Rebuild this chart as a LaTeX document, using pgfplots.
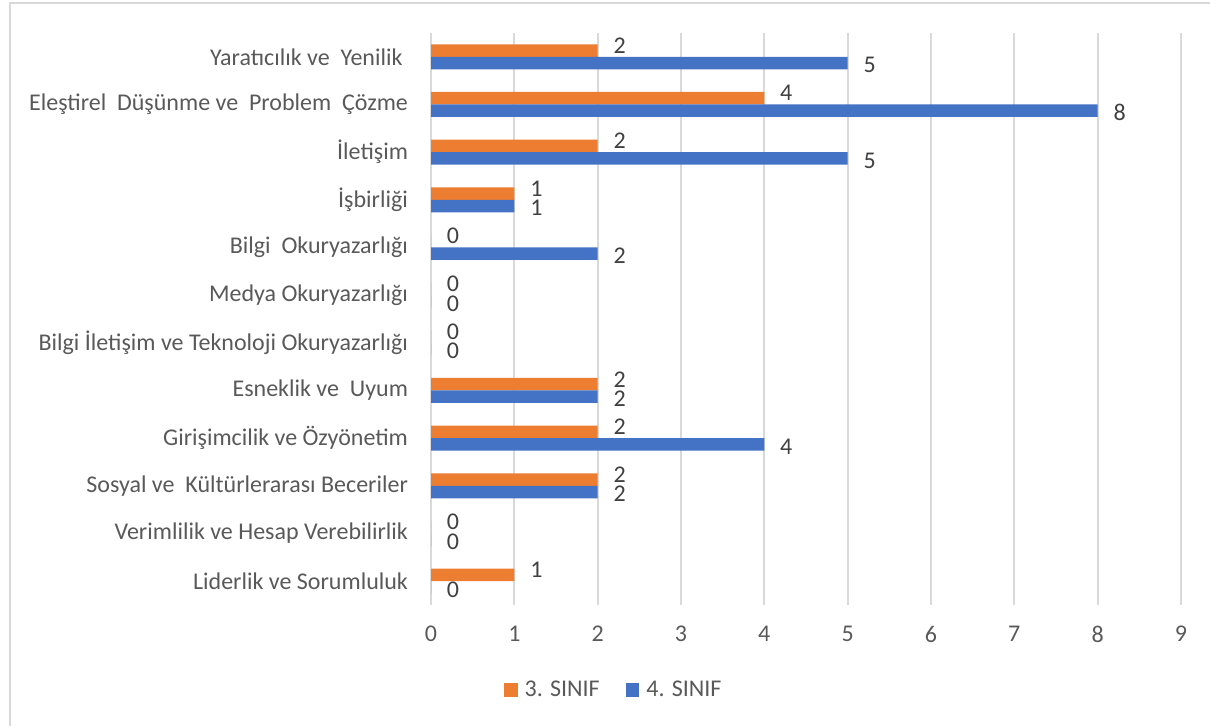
\documentclass[border=0pt]{standalone}
\usepackage{fontspec}
\setmainfont{Carlito}
\usepackage{pgfplots}
\pgfplotsset{compat=1.18}
\definecolor{sinif3}{HTML}{ED7D31}
\definecolor{sinif4}{HTML}{4472C4}
\definecolor{gridgray}{HTML}{D9D9D9}
\definecolor{labgray}{HTML}{595959}
\definecolor{valgray}{HTML}{404040}

\newcommand{\chartfont}{\fontsize{12pt}{14pt}\selectfont}

\begin{document}
\begin{tikzpicture}
\useasboundingbox (0,0) rectangle (605pt,363pt);
% chart frame (left and top edges visible)
\draw[gridgray, line width=1pt] (4.75pt,0) -- (4.75pt,361.4pt) -- (605pt,361.4pt);
\begin{axis}[
    at={(215.5pt,60.5pt)}, anchor=south west,
    scale only axis,
    width=375pt, height=286pt,
    xbar, bar width=6.25pt,
    xmin=0, xmax=9, xtick={0,...,9},
    ymin=-0.5, ymax=11.5, ytick={0,...,11},
    yticklabels={
        Liderlik ve Sorumluluk,
        Verimlilik ve Hesap Verebilirlik,
        Sosyal ve\ \ Kültürlerarası Beceriler,
        Girişimcilik ve Özyönetim,
        Esneklik ve\ \ Uyum,
        Bilgi İletişim ve Teknoloji Okuryazarlığı,
        Medya Okuryazarlığı,
        Bilgi\ \ Okuryazarlığı,
        İşbirliği,
        İletişim,
        Eleştirel\ \ Düşünme ve\ \ Problem\ \ Çözme,
        Yaratıcılık ve\ \ Yenilik\ \ },
    /pgf/number format/assume math mode=true,
    axis line style={draw=none},
    major tick length=0pt,
    xmajorgrids, ymajorgrids=false,
    grid style={gridgray, line width=0.9pt},
    ticklabel style={font=\chartfont, text=labgray},
    xticklabel style={yshift=-7pt},
    yticklabel style={xshift=-8pt},
    nodes near coords,
    every node near coord/.append style={font=\chartfont, text=valgray, anchor=center, xshift=11pt},
    legend columns=2,
    legend style={at={(0.245,-0.1486)}, anchor=center, draw=none, font=\chartfont, text=labgray,
        /tikz/every even column/.append style={column sep=11pt}},
    legend image code/.code={\fill[#1] (0pt,-3.4pt) rectangle (6.8pt,3.4pt); \path (8.3pt,0pt);},
]
\addplot[fill=sinif3, draw=none, bar shift=3.125pt,
    every node near coord/.append style={yshift=2.5pt}] coordinates {
    (1,0) (0,1) (2,2) (2,3) (2,4) (0,5) (0,6) (0,7) (1,8) (2,9) (4,10) (2,11)
};
\addplot[fill=sinif4, draw=none, bar shift=-3.125pt,
    every node near coord/.append style={yshift=-1pt}] coordinates {
    (0,0) (0,1) (2,2) (4,3) (2,4) (0,5) (0,6) (2,7) (1,8) (5,9) (8,10) (5,11)
};
\legend{3. SINIF, 4. SINIF}
\end{axis}
\end{tikzpicture}
\end{document}
